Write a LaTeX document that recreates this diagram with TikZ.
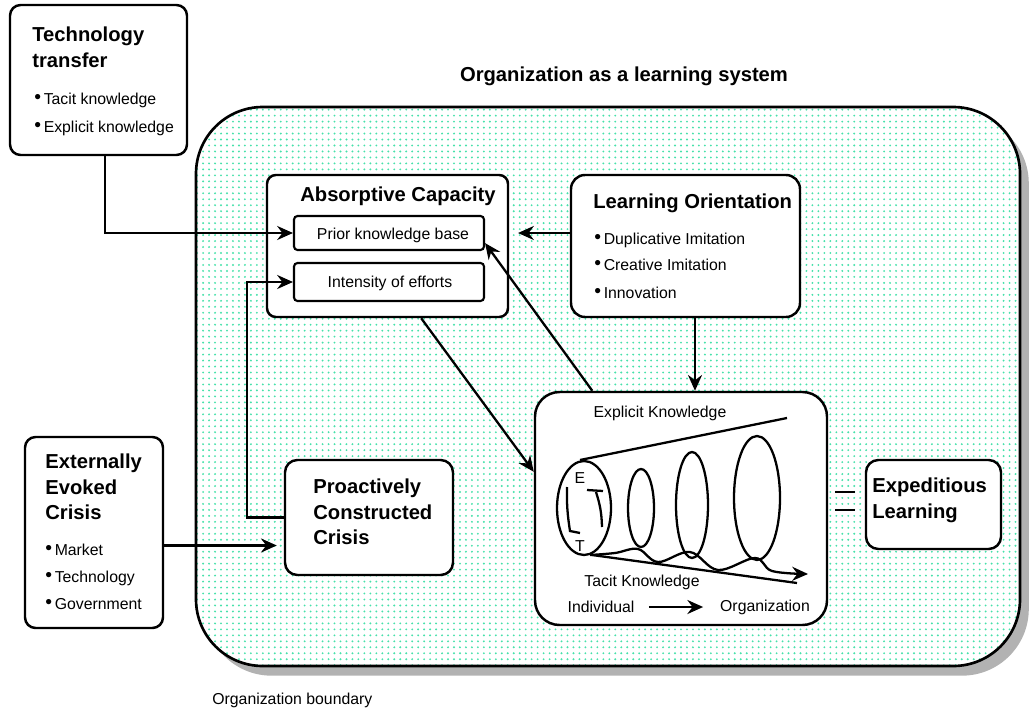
\documentclass[tikz,border=0pt]{standalone}
\usepackage{fontspec}
\setmainfont{Liberation Sans}
\usetikzlibrary{arrows.meta,fit,shadows,patterns.meta}

\definecolor{dotmint}{RGB}{70,225,170}
\newcommand{\blt}{\raisebox{0.6pt}{\fontsize{11pt}{11pt}\selectfont\textbullet}\,}

\tikzset{
  box/.style={draw, line width=1.4pt, rounded corners=6pt, fill=white, inner sep=0pt},
  orgbox/.style={draw, line width=1.5pt, rounded corners=38pt, inner sep=0pt,
    drop shadow={shadow xshift=5pt, shadow yshift=-5.5pt, fill=black!30, opacity=1},
    preaction={fill=white}, pattern={Dots[distance=3.4pt, radius=0.6pt]}, pattern color=dotmint},
  head/.style={font=\fontsize{11.5pt}{14.5pt}\selectfont\bfseries, align=left, inner sep=0pt},
  item/.style={font=\fontsize{9pt}{11pt}\selectfont, inner sep=0pt},
  arr/.style={line width=1.3pt, -{Stealth[length=9pt, width=8pt, inset=3pt]}},
  line/.style={line width=1.3pt}
}

\begin{document}
\begin{tikzpicture}[x=0.02cm, y=-0.02cm]

    % Picture frame (pixel grid of the reference, y downwards)
    \useasboundingbox (0,0) rectangle (1030,713);

    % Organization as a learning system
    \node[orgbox, fit={(196,107) (1020,666)}] (org) {};
    \node[head, anchor=center] (title) at (624,76) {Organization as a learning system};
    \node[item, anchor=west] (boundary) at (212,700) {Organization boundary};

    % Technology transfer (outside)
    \node[box, fit={(10,5) (187,155)}] (tech) {};
    \node[head, anchor=north west] (techt) at (32,27) {Technology\\transfer};
    \node[item, anchor=west] (tech1) at (34,100) {\blt Tacit knowledge};
    \node[item, anchor=west] (tech2) at (34,128) {\blt Explicit knowledge};

    % Absorptive capacity
    \node[box, rounded corners=5pt, fit={(267,175) (508,317)}] (absorb) {};
    \node[head] (absorbt) at (398,196) {Absorptive Capacity};
    \node[box, rounded corners=2pt, line width=1.2pt, fit={(294,216) (484,250)}] (prior) {};
    \node[item] (priort) at (393,235) {Prior knowledge base};
    \node[box, rounded corners=2pt, line width=1.2pt, fit={(294,263) (484,301)}] (effort) {};
    \node[item] (effortt) at (390,283) {Intensity of efforts};

    % Learning orientation
    \node[box, rounded corners=8pt, fit={(571,175) (800,317)}] (orient) {};
    \node[head, anchor=west] (orientt) at (593,203) {Learning Orientation};
    \node[item, anchor=west] (orient1) at (594,240) {\blt Duplicative Imitation};
    \node[item, anchor=west] (orient2) at (594,265) {\blt Creative Imitation};
    \node[item, anchor=west] (orient3) at (594,293) {\blt Innovation};

    % Knowledge spiral
    \node[box, rounded corners=14pt, fit={(535,392) (827,625)}] (know) {};
    \node[item] (explk) at (660,413) {Explicit Knowledge};
    \node[item] (tack) at (642,582) {Tacit Knowledge};
    \node[item] (indiv) at (601,607) {Individual};
    \node[item] (orgn) at (765,607) {Organization};
    \node[item] (e) at (580,478) {E};
    \node[item] (t) at (580,546) {T};
    \draw[line] (580,460) -- (787,418);
    \draw[line] (592,555) -- (797,583);
    \draw[line] (584,508) ellipse [x radius=0.54cm, y radius=0.94cm];
    \draw[line] (641,508) ellipse [x radius=0.26cm, y radius=0.78cm];
    \draw[line] (692,505) ellipse [x radius=0.32cm, y radius=1.06cm];
    \draw[line] (757,498) ellipse [x radius=0.46cm, y radius=1.24cm];
    \draw[arr] plot[smooth, tension=0.6] coordinates {(590,555) (615,553) (638,549) (658,562) (690,552) (718,570) (755,558) (772,571) (808,574)};
    \draw[line] (567,487) to[bend right=5] (570,531) -- (580,533);
    \draw[line] (602,527) to[bend right=8] (596,492);
    \draw[line] (587,490) -- (603,491);
    \draw[arr, shorten <=8pt, shorten >=9.5pt] (indiv) -- (orgn);

    % Proactively constructed crisis
    \node[box, rounded corners=7pt, fit={(285,460) (453,575)}] (pcc) {};
    \node[head, anchor=north west] (pcct) at (313,479) {Proactively\\Constructed\\Crisis};

    % Externally evoked crisis (outside)
    \node[box, fit={(25,437) (163,628)}] (eec) {};
    \node[head, anchor=north west] (eect) at (45,454) {Externally\\Evoked\\Crisis};
    \node[item, anchor=west] (eec1) at (45,550) {\blt Market};
    \node[item, anchor=west] (eec2) at (45,578) {\blt Technology};
    \node[item, anchor=west] (eec3) at (45,604) {\blt Government};

    % Expeditious learning
    \node[box, rounded corners=7pt, fit={(866,460) (1001,549)}] (exped) {};
    \node[head, anchor=north west] (expedt) at (872,478) {Expeditious\\Learning};
    \draw[line] (835,492) -- (855,492);
    \draw[line] (835,510) -- (855,510);

    % Connectors
    \coordinate (techout) at ([xshift=0.13cm]tech.south);
    \draw[arr] (techout) |- (prior.west);
    \coordinate (orientin) at ([xshift=0.66cm]prior.east);
    \draw[arr] (orient.west |- orientin) -- (orientin);
    \draw[arr] ([xshift=0.19cm]orient.south) -- ([xshift=0.19cm]orient.south |- know.north);
    \draw[arr] (absorb.-65) -- (know.166);
    \draw[arr] (know.127) -- (prior.-6);
    \draw[arr] (pcc.west) -- ++(-37,0) |- (effort.west);
    \coordinate (crisisin) at ([xshift=-0.14cm, yshift=-0.56cm]pcc.west);
    \draw[arr] (eec.east |- crisisin) -- (crisisin);

\end{tikzpicture}
\end{document}
